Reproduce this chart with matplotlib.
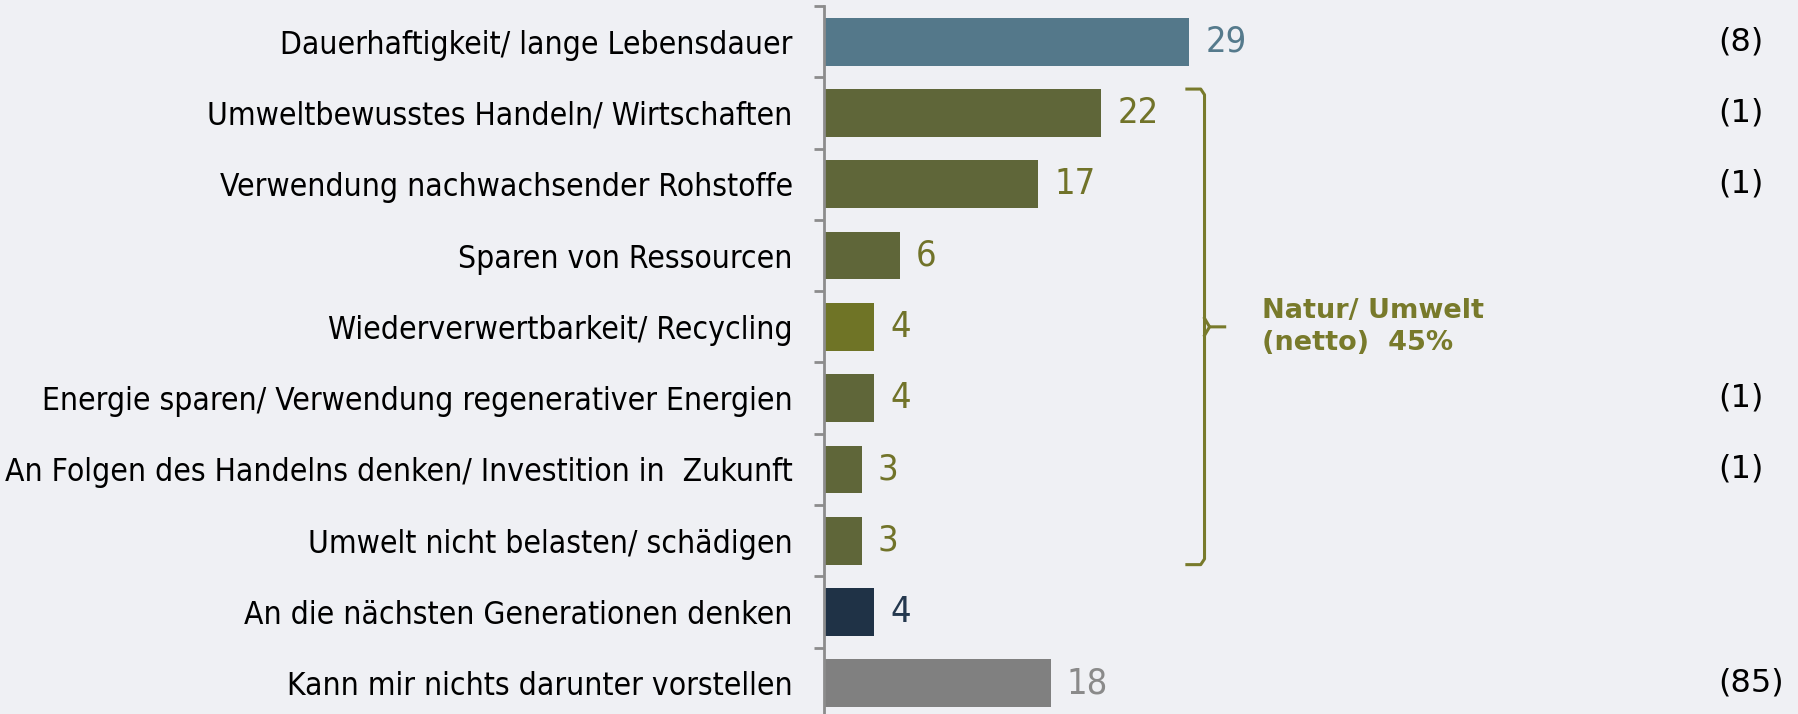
import numpy as np
import matplotlib
matplotlib.use('Agg')
from matplotlib import pyplot as plt
import matplotlib.transforms as mtransforms

# --- data ---
categories = [
    'Dauerhaftigkeit/ lange Lebensdauer',
    'Umweltbewusstes Handeln/ Wirtschaften',
    'Verwendung nachwachsender Rohstoffe',
    'Sparen von Ressourcen',
    'Wiederverwertbarkeit/ Recycling',
    'Energie sparen/ Verwendung regenerativer Energien',
    'An Folgen des Handelns denken/ Investition in  Zukunft',
    'Umwelt nicht belasten/ schädigen',
    'An die nächsten Generationen denken',
    'Kann mir nichts darunter vorstellen',
]
values = [29, 22, 17, 6, 4, 4, 3, 3, 4, 18]
base_counts = ['(8)', '(1)', '(1)', '', '', '(1)', '(1)', '', '', '(85)']
group_rows = [1, 7]          # first / last row covered by the bracket
group_label = 'Natur/ Umwelt\n(netto)  45%'

# --- styles ---
bar_colors = ['#54788A', '#5F6639', '#5F6639', '#5F6639', '#6F7426',
              '#5F6639', '#5F6639', '#5F6639', '#1F3246', '#808080']
value_colors = ['#557A8C', '#717329', '#717329', '#717329', '#717329',
                '#717329', '#717329', '#717329', '#24384E', '#8A8A8A']
bg = '#EFF0F4'
olive = '#787A2B'

W, H = 1799, 714
fig = plt.figure(figsize=(W / 100, H / 100), dpi=100, facecolor=bg)
ax = fig.add_axes([824 / W, -5 / H, 1 - 824 / W, 713 / H], facecolor=bg)

y = np.arange(len(values))
ax.barh(y, values, height=0.67, color=bar_colors, edgecolor='none')
ax.set_ylim(len(values) - 0.5, -0.5)
ax.set_xlim(0, 975 / 12.6)

for s in ['top', 'right', 'bottom']:
    ax.spines[s].set_visible(False)
ax.spines['left'].set_color('#8C8C8C')
ax.spines['left'].set_linewidth(2)
ax.set_xticks([])

ax.set_yticks(y)
ax.set_yticklabels(categories, fontsize=22.8, fontstretch='condensed')
ax.tick_params(axis='y', which='major', length=0, pad=22.5)
ax.set_yticks(np.arange(len(values) + 1) - 0.5, minor=True)
ax.tick_params(axis='y', which='minor', length=7, width=2, color='#8C8C8C')

for i, v in enumerate(values):
    ax.annotate(str(v), (v, i), xytext=(11.5, 0), textcoords='offset points',
                va='center', ha='left', fontsize=26, color=value_colors[i],
                fontstretch='condensed')

trans = mtransforms.blended_transform_factory(fig.transFigure, ax.transData)
for i, c in enumerate(base_counts):
    if c:
        ax.text(1718 / W, i, c, transform=trans, ha='left', va='center',
                fontsize=23, color='black')

# bracket around the "Natur/ Umwelt" group
top = group_rows[0] - 0.335
bot = group_rows[1] + 0.335
mid = (group_rows[0] + group_rows[1]) / 2
xb = 30.2
ax.plot([28.8, 29.9, xb, xb, 29.9, 28.8],
        [top, top, top + 0.08, bot - 0.08, bot, bot],
        color=olive, lw=2.2, solid_joinstyle='round', clip_on=False)
ax.plot([xb, 30.6, 31.8], [mid - 0.12, mid, mid], color=olive, lw=2.2, clip_on=False)
ax.plot([xb, 30.6], [mid + 0.12, mid], color=olive, lw=2.2, clip_on=False)
ax.text(34.8, mid, group_label, ha='left', va='center', fontsize=19.5,
        fontweight='bold', color=olive, linespacing=1.3)

fig.savefig('out.png', dpi=100, facecolor=bg)
